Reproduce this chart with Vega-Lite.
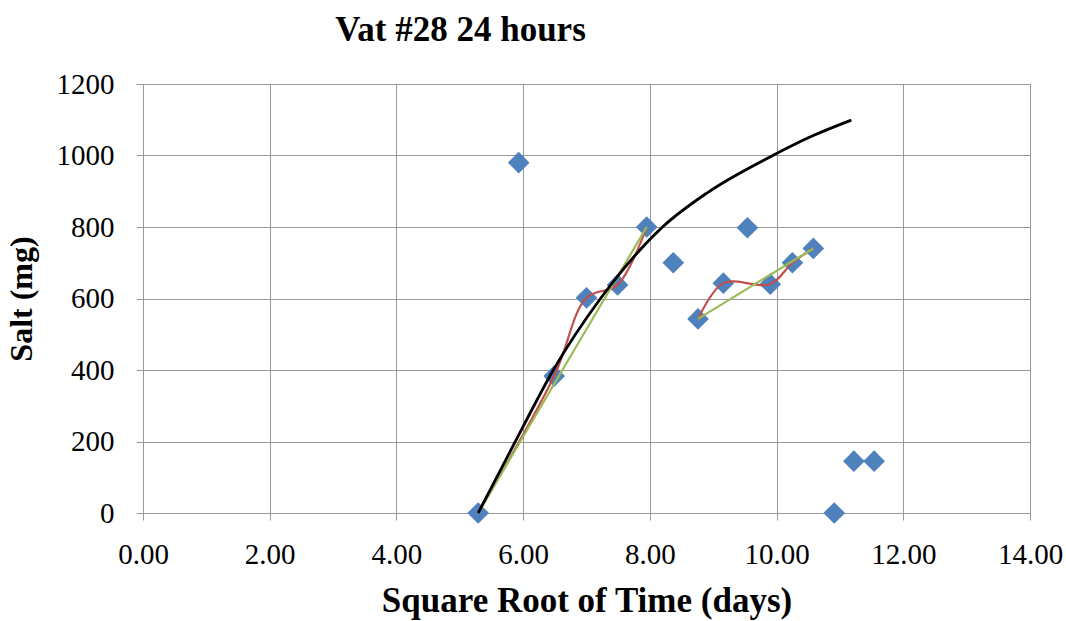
{
  "$schema": "https://vega.github.io/schema/vega-lite/v6.json",
  "width": 887,
  "height": 429,
  "autosize": "none",
  "padding": {"left": 143, "top": 84, "right": 36, "bottom": 108},
  "background": "white",
  "title": {
    "text": "Vat #28 24 hours",
    "anchor": "middle",
    "dx": -126,
    "offset": 22,
    "font": "Liberation Serif",
    "fontSize": 35,
    "fontWeight": "bold",
    "color": "black"
  },
  "config": {
    "view": {"stroke": null},
    "axis": {
      "labelFont": "Liberation Serif",
      "labelFontSize": 29,
      "labelColor": "black",
      "labelFlush": false,
      "titleFont": "Liberation Serif",
      "titleFontWeight": "bold",
      "titleColor": "black",
      "gridColor": "#999999",
      "gridWidth": 1,
      "gridOpacity": 1,
      "domainColor": "#999999",
      "domainWidth": 1,
      "tickColor": "#999999",
      "tickSize": 7
    }
  },
  "datasets": {
    "pts": [
      {"x": 5.29, "y": 0},
      {"x": 5.93, "y": 980},
      {"x": 6.49, "y": 383},
      {"x": 7.0, "y": 602},
      {"x": 7.49, "y": 638},
      {"x": 7.95, "y": 800},
      {"x": 8.37, "y": 700},
      {"x": 8.76, "y": 543},
      {"x": 9.16, "y": 643},
      {"x": 9.54, "y": 798},
      {"x": 9.9, "y": 640},
      {"x": 10.25, "y": 700},
      {"x": 10.58, "y": 740},
      {"x": 10.91, "y": 0},
      {"x": 11.22, "y": 145},
      {"x": 11.54, "y": 145}
    ],
    "lines": [
      {"series": "smooth", "seg": "a", "x": 5.29, "y": 0},
      {"series": "smooth", "seg": "a", "x": 6.49, "y": 383},
      {"series": "smooth", "seg": "a", "x": 7.0, "y": 602},
      {"series": "smooth", "seg": "a", "x": 7.49, "y": 638},
      {"series": "smooth", "seg": "a", "x": 7.95, "y": 800},
      {"series": "smooth", "seg": "b", "x": 8.76, "y": 543},
      {"series": "smooth", "seg": "b", "x": 9.16, "y": 643},
      {"series": "smooth", "seg": "b", "x": 9.9, "y": 640},
      {"series": "smooth", "seg": "b", "x": 10.25, "y": 700},
      {"series": "smooth", "seg": "b", "x": 10.58, "y": 740},
      {"series": "straight", "seg": "a", "x": 5.29, "y": 0},
      {"series": "straight", "seg": "a", "x": 7.95, "y": 800},
      {"series": "straight", "seg": "b", "x": 8.76, "y": 543},
      {"series": "straight", "seg": "b", "x": 10.58, "y": 740},
      {"series": "fit", "seg": "a", "x": 5.29, "y": 0},
      {"series": "fit", "seg": "a", "x": 5.97, "y": 232},
      {"series": "fit", "seg": "a", "x": 6.47, "y": 398},
      {"series": "fit", "seg": "a", "x": 7.23, "y": 602},
      {"series": "fit", "seg": "a", "x": 8.2, "y": 800},
      {"series": "fit", "seg": "a", "x": 8.9, "y": 895},
      {"series": "fit", "seg": "a", "x": 9.94, "y": 1000},
      {"series": "fit", "seg": "a", "x": 10.57, "y": 1055},
      {"series": "fit", "seg": "a", "x": 11.18, "y": 1099}
    ]
  },
  "encoding": {
    "x": {
      "field": "x",
      "type": "quantitative",
      "scale": {"domain": [0, 14], "nice": false, "zero": false},
      "axis": {
        "values": [0, 2, 4, 6, 8, 10, 12, 14],
        "format": ".2f",
        "title": "Square Root of Time (days)",
        "titleFontSize": 35,
        "labelPadding": 20,
        "titlePadding": 14
      }
    },
    "y": {
      "field": "y",
      "type": "quantitative",
      "scale": {"domain": [0, 1200], "nice": false},
      "axis": {
        "values": [0, 200, 400, 600, 800, 1000, 1200],
        "format": "d",
        "title": "Salt (mg)",
        "titleFontSize": 32,
        "labelPadding": 22,
        "titlePadding": 18
      }
    }
  },
  "layer": [
    {
      "data": {"name": "pts"},
      "mark": {"type": "point", "shape": "diamond", "filled": true, "size": 470, "color": "#4F81BD", "opacity": 1}
    },
    {
      "data": {"name": "lines"},
      "transform": [{"filter": "datum.series === 'smooth'"}],
      "mark": {"type": "line", "interpolate": "catmull-rom", "color": "#C0504D", "strokeWidth": 2.2},
      "encoding": {"detail": {"field": "seg"}}
    },
    {
      "data": {"name": "lines"},
      "transform": [{"filter": "datum.series === 'straight'"}],
      "mark": {"type": "line", "color": "#9BBB59", "strokeWidth": 2.2},
      "encoding": {"detail": {"field": "seg"}}
    },
    {
      "data": {"name": "lines"},
      "transform": [{"filter": "datum.series === 'fit'"}],
      "mark": {"type": "line", "interpolate": "monotone", "color": "black", "strokeWidth": 2.8},
      "encoding": {"detail": {"field": "seg"}}
    }
  ]
}
